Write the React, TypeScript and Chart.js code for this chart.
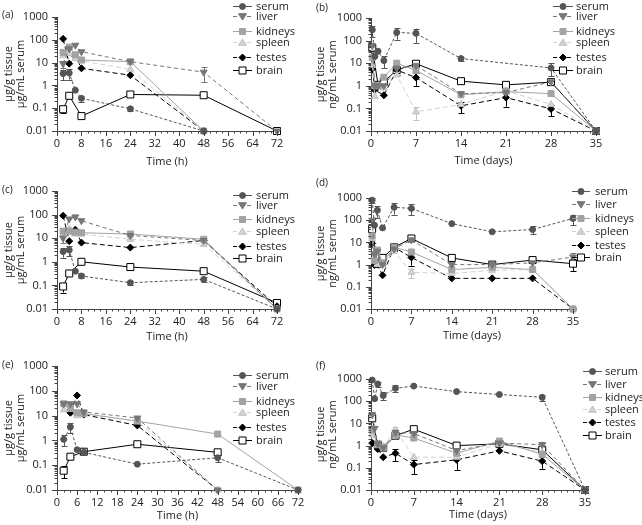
import React, { useEffect, useRef } from 'react';
import { Chart, registerables } from 'chart.js';
Chart.register(...registerables);

const FONT_FAMILY = '"Open Sans", "DejaVu Sans", sans-serif';
const TEXT = '#222222';
const AXIS = '#444444';

// ---------- time points ----------
const hoursX = [2, 4, 6, 8, 24, 48, 72];
const daysX = [0.2, 0.6, 1.1, 2, 4, 7, 14, 21, 28, 35];

// ---------- panel (a) ----------
const aSerum = [3.3, 3.5, 0.62, 0.27, 0.094, 0.01, null];
const aSerumErr = [1.6, 1.7, null, 0.08, 0.02, null, null];
const aLiver = [9, 40, 58, 30, 11, 3.8, 0.01];
const aLiverErr = [3, null, null, null, null, 2.4, null];
const aKidneys = [28, 48, 22, 13, 11, 0.01, null];
const aSpleen = [20, 25, 15, 12, 5, 0.01, null];
const aTestes = [110, 9, 19, 5.6, 2.8, 0.01, null];
const aBrain = [0.09, 0.35, null, 0.045, 0.4, 0.37, 0.01];
const aBrainErr = [0.03, null, null, null, null, null, null];

// ---------- panel (b) ----------
const bSerum = [300, 20, 34, 13, 230, 210, 16, null, 6.2, 0.01];
const bSerumErr = [150, null, null, 7, 120, 130, 3, null, 3.5, null];
const bLiver = [60, 1, 1, 1, 6, 8, 0.45, 0.5, 1.5, 0.01];
const bKidneys = [18, 1, 1, 2.4, 10, 4.8, 0.4, 0.55, 0.45, 0.01];
const bSpleen = [8, 0.33, 1, 0.8, 3, 0.07, 0.15, 0.6, 0.15, 0.01];
const bSpleenErr = [null, null, null, null, null, 0.04, null, null, null, null];
const bTestes = [5.5, 0.65, null, 0.38, 5, 2.3, 0.13, 0.3, 0.095, 0.01];
const bTestesErr = [null, null, null, null, 2, 1.3, 0.07, 0.18, 0.05, null];
const bBrain = [48, null, 1.1, 1.5, 5, 9.5, 1.6, 1.1, 1.45, 0.01];

// ---------- panel (c) ----------
const cSerum = [2.7, 3.2, 0.4, 0.25, 0.13, 0.18, 0.01];
const cSerumErr = [1.2, 1.5, null, 0.05, 0.03, 0.04, null];
const cLiver = [10, 65, 80, 55, 13, 8, 0.01];
const cLiverErr = [4, null, null, null, null, null, null];
const cKidneys = [20, 20, 18, 17, 15, 9, 0.01];
const cSpleen = [15, 25, 15, 15, 9, 5.5, 0.01];
const cTestes = [90, 7.5, 23, 6.5, 4, 8, 0.013];
const cBrain = [0.09, 0.32, null, 1, 0.6, 0.4, 0.018];
const cBrainErr = [0.04, null, null, null, null, null, 0.007];

// ---------- panel (d) ----------
const dSerum = [800, 60, 280, 45, 380, 340, 70, 30, 38, 120];
const dSerumErr = [200, null, 150, null, 200, 170, null, null, 15, 60];
const dLiver = [100, 3, 4, 1, 5, 13, 1, 1, 1.2, 2.2];
const dLiverErr = [null, null, null, null, null, null, null, null, null, 1];
const dKidneys = [20, 1.5, 4.5, 1.2, 6, 3.7, 0.6, 0.75, 0.6, 0.01];
const dSpleen = [15, 2, 1, 1, 4, 0.45, 0.4, 0.55, 0.6, 0.01];
const dSpleenErr = [null, null, null, null, null, 0.2, null, null, null, null];
const dTestes = [9, 0.95, 1, 0.33, 6, 2.1, 0.24, 0.24, 0.24, 0.01];
const dTestesErr = [null, null, null, null, null, 1.2, null, null, null, null];
const dBrain = [40, null, 1.1, 2, 6, 15, 2, 1, 1.6, 1.1];
const dBrainErr = [null, null, null, null, 2, null, null, null, null, 0.6];

// ---------- panel (e) ----------
const eSerum = [1.1, 3.5, 0.42, 0.33, 0.11, 0.2, 0.01];
const eSerumErr = [0.5, 1.6, null, null, null, 0.07, null];
const eLiver = [30, 30, 30, 14, 8, 0.01, null];
const eKidneys = [30, 20, 13, 12, 6, 1.8, 0.01];
const eSpleen = [17, 18, 10, 12, 6, 0.01, null];
const eTestes = [null, 13, 65, 11, 4, 0.01, null];
const eBrain = [0.06, 0.22, null, 0.35, 0.7, 0.33, null];
const eBrainErr = [0.03, null, null, null, null, null, null];

// ---------- panel (f) ----------
const fSerum = [900, 130, 600, 180, 380, 480, 270, 200, 150, 0.01];
const fSerumErr = [null, null, 150, 70, 130, null, null, null, 50, null];
const fLiver = [25, 6, 1.2, 0.8, 4, 3.5, 0.6, 1.3, 1.1, 0.01];
const fLiverErr = [null, null, null, null, null, null, null, null, 0.4, null];
const fKidneys = [5, null, 1.1, 0.8, 3, 2.2, 0.45, 1.6, 0.4, 0.01];
const fSpleen = [3, null, 1, 0.9, 5, 0.3, 0.3, 1.2, 0.5, 0.01];
const fSpleenErr = [null, null, null, null, 2, null, null, null, null, null];
const fTestes = [1.3, null, 0.7, 0.3, 0.45, 0.14, 0.23, 0.58, 0.2, 0.01];
const fTestesErr = [null, null, null, null, 0.25, 0.09, 0.15, null, 0.11, null];
const fBrain = [17, null, 1.1, 0.8, 2.8, 5.5, 1, 1.2, 0.65, 0.01];

const seriesNames = ['serum', 'liver', 'kidneys', 'spleen', 'testes', 'brain'];
const yTickValues = [0.01, 0.1, 1, 10, 100, 1000];

type Shape = 'circle' | 'triDown' | 'triUp' | 'square' | 'diamond';
interface Style { color: string; fill: string; shape: Shape; r: number; dash: number[]; legendDash: number[] }

const STYLES: Record<string, Style> = {
  serum: { color: '#555555', fill: '#555555', shape: 'circle', r: 3, dash: [3, 2], legendDash: [] },
  liver: { color: '#777777', fill: '#777777', shape: 'triDown', r: 4, dash: [4, 3], legendDash: [4, 3] },
  kidneys: { color: '#a3a3a3', fill: '#a3a3a3', shape: 'square', r: 3, dash: [], legendDash: [] },
  spleen: { color: '#d2d2d2', fill: '#d2d2d2', shape: 'triUp', r: 4, dash: [5, 3], legendDash: [4, 3] },
  testes: { color: '#000000', fill: '#000000', shape: 'diamond', r: 3.5, dash: [5, 3], legendDash: [4, 3] },
  brain: { color: '#000000', fill: '#ffffff', shape: 'square', r: 3.5, dash: [], legendDash: [] },
};

const chartShape: Record<Shape, { style: string; rot: number; rad: (r: number) => number }> = {
  circle: { style: 'circle', rot: 0, rad: (r) => r },
  triDown: { style: 'triangle', rot: 180, rad: (r) => r },
  triUp: { style: 'triangle', rot: 0, rad: (r) => r },
  square: { style: 'rect', rot: 0, rad: (r) => r * Math.SQRT2 },
  diamond: { style: 'rectRot', rot: 0, rad: (r) => r },
};

const strokeOf = (st: Style) => (st.color === '#d2d2d2' ? '#c2c2c2' : st.color);

interface Series { key: string; values: (number | null)[]; err?: (number | null)[] }
interface Spec {
  left: number; top: number; w: number; h: number;
  l: number; r: number; t: number; b: number;
  xs: number[]; xMax: number; xStep: number; xMinor: number;
  label: string; labelPos: [number, number];
  yUnit: string; yTitleX: [number, number];
  xTitle: string; xTitleY: number;
  legend: { x0: number; x1: number; tx: number; ys: number[] };
  series: Series[];
}

function drawMarker(ctx: CanvasRenderingContext2D, shape: Shape, x: number, y: number, r: number, fill: string, stroke: string) {
  ctx.save();
  ctx.setLineDash([]);
  ctx.beginPath();
  if (shape === 'circle') {
    ctx.arc(x, y, r, 0, Math.PI * 2);
  } else if (shape === 'square') {
    ctx.rect(x - r, y - r, 2 * r, 2 * r);
  } else if (shape === 'diamond') {
    ctx.moveTo(x, y - r); ctx.lineTo(x + r, y); ctx.lineTo(x, y + r); ctx.lineTo(x - r, y); ctx.closePath();
  } else if (shape === 'triDown') {
    ctx.moveTo(x - r, y - r * 0.7); ctx.lineTo(x + r, y - r * 0.7); ctx.lineTo(x, y + r * 0.9); ctx.closePath();
  } else {
    ctx.moveTo(x - r, y + r * 0.7); ctx.lineTo(x + r, y + r * 0.7); ctx.lineTo(x, y - r * 0.9); ctx.closePath();
  }
  ctx.fillStyle = fill;
  ctx.fill();
  ctx.strokeStyle = stroke;
  ctx.lineWidth = 1;
  ctx.stroke();
  ctx.restore();
}

function buildChart(canvas: HTMLCanvasElement, spec: Spec) {
  const font = { family: FONT_FAMILY, size: 11 };
  const datasets = spec.series.map((s) => {
    const st = STYLES[s.key];
    const cs = chartShape[st.shape];
    const data: any[] = [];
    spec.xs.forEach((x, i) => {
      const v = s.values[i];
      if (v !== null && v !== undefined) data.push({ x, y: v, e: s.err ? s.err[i] : null });
    });
    return {
      label: s.key,
      data,
      borderColor: st.color,
      backgroundColor: st.fill,
      borderWidth: 1,
      borderDash: st.dash,
      pointStyle: cs.style,
      pointRotation: cs.rot,
      pointRadius: cs.rad(st.r),
      pointBackgroundColor: st.fill,
      pointBorderColor: strokeOf(st),
      pointBorderWidth: 1,
      tension: 0,
      clip: false as any,
    };
  });

  const deco = {
    id: 'deco',
    beforeDatasetsDraw(chart: any) {
      const ctx: CanvasRenderingContext2D = chart.ctx;
      const ys = chart.scales.y;
      ctx.save();
      ctx.setLineDash([]);
      ctx.lineWidth = 1;
      chart.data.datasets.forEach((ds: any, di: number) => {
        const meta = chart.getDatasetMeta(di);
        const st = STYLES[ds.label];
        ctx.strokeStyle = strokeOf(st);
        ds.data.forEach((p: any, i: number) => {
          if (!p.e) return;
          const el = meta.data[i];
          const x = Math.round(el.x) + 0.5;
          const yt = ys.getPixelForValue(p.y + p.e);
          const yb = Math.min(ys.getPixelForValue(Math.max(p.y - p.e, 0.0105)), chart.chartArea.bottom);
          ctx.beginPath();
          ctx.moveTo(x, yt); ctx.lineTo(x, yb);
          ctx.moveTo(x - 3, Math.round(yt) + 0.5); ctx.lineTo(x + 3, Math.round(yt) + 0.5);
          ctx.moveTo(x - 3, Math.round(yb) + 0.5); ctx.lineTo(x + 3, Math.round(yb) + 0.5);
          ctx.stroke();
        });
      });
      ctx.restore();
    },
    afterDraw(chart: any) {
      const ctx: CanvasRenderingContext2D = chart.ctx;
      const { left, right, top, bottom } = chart.chartArea;
      const xs = chart.scales.x;
      const ys = chart.scales.y;
      ctx.save();
      ctx.setLineDash([]);
      ctx.strokeStyle = AXIS;
      ctx.lineWidth = 1;
      // y ticks (major + log minor)
      ctx.beginPath();
      for (let d = -2; d <= 3; d++) {
        for (let k = 1; k <= 9; k++) {
          const v = k * Math.pow(10, d);
          if (v > 1000.0001) continue;
          const py = Math.round(ys.getPixelForValue(v)) + 0.5;
          const len = k === 1 ? 5 : 2.5;
          ctx.moveTo(left - len, py); ctx.lineTo(left, py);
        }
      }
      // x ticks (major + minor)
      for (let v = 0; v <= spec.xMax + 1e-6; v += spec.xMinor) {
        const px = Math.round(xs.getPixelForValue(v)) + 0.5;
        const major = Math.abs(v / spec.xStep - Math.round(v / spec.xStep)) < 1e-6;
        const len = major ? 5 : 2.5;
        ctx.moveTo(px, bottom); ctx.lineTo(px, bottom + len);
      }
      ctx.stroke();

      ctx.fillStyle = TEXT;
      ctx.font = `11px ${FONT_FAMILY}`;
      // x title
      ctx.textAlign = 'center';
      ctx.textBaseline = 'middle';
      ctx.fillText(spec.xTitle, (left + right) / 2, spec.xTitleY);
      // y title (two lines)
      const cy = (top + bottom) / 2;
      ['µg/g tissue', spec.yUnit].forEach((txt, i) => {
        ctx.save();
        ctx.translate(spec.yTitleX[i], cy);
        ctx.rotate(-Math.PI / 2);
        ctx.fillText(txt, 0, 0);
        ctx.restore();
      });
      // panel label
      ctx.font = `10px ${FONT_FAMILY}`;
      ctx.textAlign = 'left';
      ctx.fillText(spec.label, spec.labelPos[0], spec.labelPos[1]);
      // legend
      ctx.font = `11px ${FONT_FAMILY}`;
      const lg = spec.legend;
      seriesNames.forEach((name, i) => {
        const st = STYLES[name];
        const y = lg.ys[i] + 0.5;
        ctx.save();
        ctx.strokeStyle = st.color;
        ctx.lineWidth = 1;
        ctx.setLineDash(st.legendDash);
        ctx.beginPath();
        ctx.moveTo(lg.x0, y); ctx.lineTo(lg.x1, y);
        ctx.stroke();
        ctx.restore();
        drawMarker(ctx, st.shape, (lg.x0 + lg.x1) / 2, y, st.r, st.fill, strokeOf(st));
        ctx.fillStyle = TEXT;
        ctx.textAlign = 'left';
        ctx.textBaseline = 'middle';
        ctx.fillText(name, lg.tx, y);
      });
      ctx.restore();
    },
  };

  const xMajors: number[] = [];
  for (let v = 0; v <= spec.xMax + 1e-6; v += spec.xStep) xMajors.push(v);

  return new Chart(canvas, {
    type: 'line',
    data: { datasets: datasets as any },
    plugins: [deco],
    options: {
      animation: false,
      responsive: false,
      devicePixelRatio: 1,
      layout: { padding: { top: spec.t, right: spec.w - spec.r, bottom: 0, left: 0 } },
      plugins: { legend: { display: false }, tooltip: { enabled: false } },
      scales: {
        x: {
          type: 'linear',
          min: 0,
          max: spec.xMax,
          afterBuildTicks: (s: any) => { s.ticks = xMajors.map((v) => ({ value: v })); },
          afterFit: (s: any) => { s.height = spec.h - spec.b; },
          grid: { display: false, drawTicks: false },
          border: { display: true, color: AXIS, width: 1 },
          ticks: { padding: 6, font, color: TEXT, maxRotation: 0, autoSkip: false, callback: (v: any) => String(v) },
        },
        y: {
          type: 'logarithmic',
          min: 0.01,
          max: 1000,
          afterBuildTicks: (s: any) => { s.ticks = yTickValues.map((v) => ({ value: v })); },
          afterFit: (s: any) => { s.width = spec.l; },
          grid: { display: false, drawTicks: false },
          border: { display: true, color: AXIS, width: 1 },
          ticks: { padding: 9, font, color: TEXT, autoSkip: false, callback: (v: any) => String(v) },
        },
      },
    } as any,
  });
}

const mk = (a: (number | null)[], b: (number | null)[], c: (number | null)[], d: (number | null)[], e: (number | null)[], f: (number | null)[], errs: Record<string, (number | null)[]>): Series[] =>
  [a, b, c, d, e, f].map((values, i) => ({ key: seriesNames[i], values, err: errs[seriesNames[i]] }));

const RW = 330;
const specs: Spec[] = [
  {
    left: 0, top: 0, w: 320, h: 175, l: 57, r: 277, t: 17, b: 131,
    xs: hoursX, xMax: 72, xStep: 8, xMinor: 2, label: '(a)', labelPos: [2, 15],
    yUnit: 'µg/mL serum', yTitleX: [9, 21], xTitle: 'Time (h)', xTitleY: 162,
    legend: { x0: 233, x1: 252, tx: 256, ys: [6, 16, 31, 42, 57, 70] },
    series: mk(aSerum, aLiver, aKidneys, aSpleen, aTestes, aBrain, { serum: aSerumErr, liver: aLiverErr, brain: aBrainErr }),
  },
  {
    left: 312, top: 0, w: RW, h: 175, l: 59, r: 284, t: 18, b: 131,
    xs: daysX, xMax: 35, xStep: 7, xMinor: 1, label: '(b)', labelPos: [4, 8],
    yUnit: 'ng/mL serum', yTitleX: [9, 21], xTitle: 'Time (days)', xTitleY: 161,
    legend: { x0: 241, x1: 261, tx: 264, ys: [6, 16, 31, 42, 57, 70] },
    series: mk(bSerum, bLiver, bKidneys, bSpleen, bTestes, bBrain, { serum: bSerumErr, spleen: bSpleenErr, testes: bTestesErr }),
  },
  {
    left: 0, top: 175, w: 320, h: 175, l: 57, r: 277, t: 16, b: 134,
    xs: hoursX, xMax: 72, xStep: 8, xMinor: 2, label: '(c)', labelPos: [2, 15],
    yUnit: 'µg/mL serum', yTitleX: [9, 21], xTitle: 'Time (h)', xTitleY: 162,
    legend: { x0: 233, x1: 252, tx: 256, ys: [20, 30, 44, 56, 71, 83] },
    series: mk(cSerum, cLiver, cKidneys, cSpleen, cTestes, cBrain, { serum: cSerumErr, liver: cLiverErr, brain: cBrainErr }),
  },
  {
    left: 312, top: 175, w: RW, h: 175, l: 59, r: 261, t: 23, b: 134,
    xs: daysX, xMax: 35, xStep: 7, xMinor: 1, label: '(d)', labelPos: [4, 8],
    yUnit: 'ng/mL serum', yTitleX: [9, 21], xTitle: 'Time (days)', xTitleY: 161,
    legend: { x0: 260, x1: 278, tx: 283, ys: [16, 29, 43, 56, 70, 82] },
    series: mk(dSerum, dLiver, dKidneys, dSpleen, dTestes, dBrain, { serum: dSerumErr, liver: dLiverErr, spleen: dSpleenErr, testes: dTestesErr, brain: dBrainErr }),
  },
  {
    left: 0, top: 350, w: 320, h: 175, l: 57, r: 298, t: 16, b: 140,
    xs: hoursX, xMax: 72, xStep: 6, xMinor: 2, label: '(e)', labelPos: [2, 15],
    yUnit: 'µg/mL serum', yTitleX: [9, 21], xTitle: 'Time (h)', xTitleY: 166,
    legend: { x0: 233, x1: 252, tx: 256, ys: [25, 36, 51, 62, 77, 90] },
    series: mk(eSerum, eLiver, eKidneys, eSpleen, eTestes, eBrain, { serum: eSerumErr, brain: eBrainErr }),
  },
  {
    left: 312, top: 350, w: RW, h: 175, l: 59, r: 273, t: 29, b: 140,
    xs: daysX, xMax: 35, xStep: 7, xMinor: 1, label: '(f)', labelPos: [4, 16],
    yUnit: 'ng/mL serum', yTitleX: [9, 21], xTitle: 'Time (days)', xTitleY: 165,
    legend: { x0: 271, x1: 290, tx: 293, ys: [21, 34, 47, 59, 72, 85] },
    series: mk(fSerum, fLiver, fKidneys, fSpleen, fTestes, fBrain, { serum: fSerumErr, liver: fLiverErr, spleen: fSpleenErr, testes: fTestesErr }),
  },
];

function Panel({ spec }: { spec: Spec }) {
  const ref = useRef<HTMLCanvasElement>(null);
  useEffect(() => {
    if (!ref.current) return;
    const chart = buildChart(ref.current, spec);
    return () => chart.destroy();
  }, [spec]);
  return (
    <canvas
      ref={ref}
      width={spec.w}
      height={spec.h}
      style={{ position: 'absolute', left: spec.left, top: spec.top, width: spec.w, height: spec.h }}
    />
  );
}

export default function App() {
  return (
    <div style={{ position: 'absolute', left: 0, top: 0, width: 642, height: 525, background: '#ffffff', overflow: 'hidden' }}>
      {specs.map((s, i) => (
        <Panel key={i} spec={s} />
      ))}
    </div>
  );
}
